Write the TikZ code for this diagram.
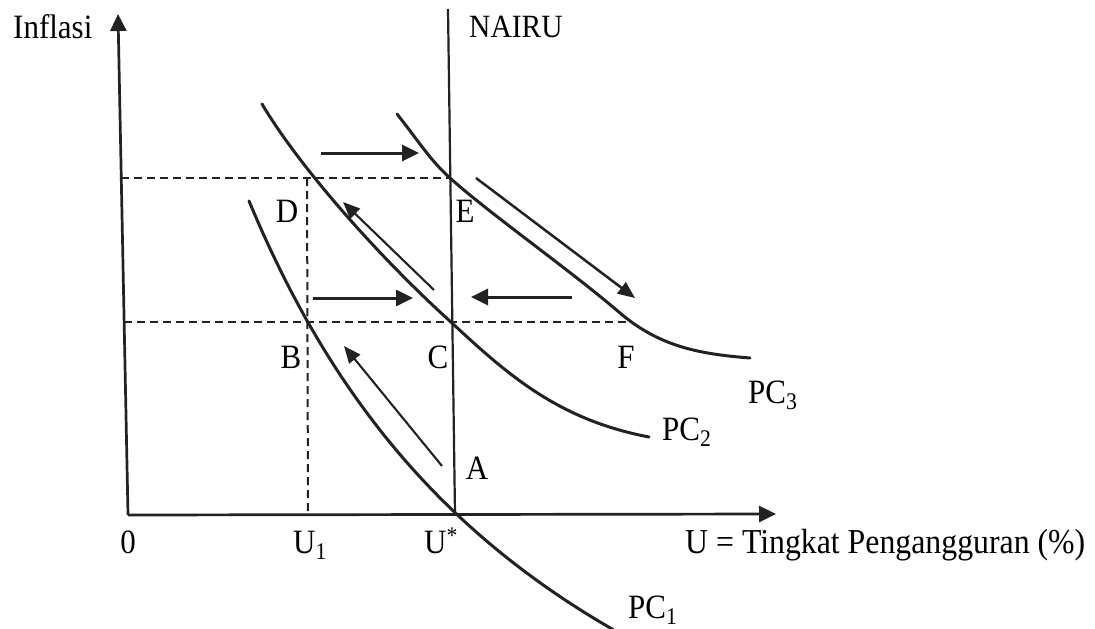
\documentclass[tikz,border=0pt]{standalone}
\usepackage{fontspec}
\setmainfont{Liberation Serif}
\usetikzlibrary{arrows.meta}
\definecolor{ink}{RGB}{34,34,34}
\newcommand{\tallt}[1]{\scalebox{1}[1.1]{#1}}
\begin{document}
\begin{tikzpicture}[x=1pt,y=-1pt,
  lbl/.style={font=\fontsize{31}{36}\selectfont, inner sep=0pt, text=black},
  axisline/.style={draw=ink, line width=2.7pt},
  curve/.style={draw=ink, line width=3pt, line cap=round, line join=round},
  guide/.style={draw=ink, line width=2pt, dash pattern=on 8pt off 5pt},
  movearrow/.style={draw=ink, line width=3pt, -{Triangle[length=17pt,width=16pt]}},
  thinarrow/.style={draw=ink, line width=2.1pt, -{Triangle[length=17pt,width=14pt]}}
]
\useasboundingbox (0,0) rectangle (1095,629);
\fill[white] (0,0) rectangle (1095,629);

% key points
\coordinate (O) at (128,515);
\coordinate (Ytop) at (118,14);
\coordinate (Xend) at (776,514);
\coordinate (Ntop) at (448,9);
\coordinate (Nbot) at (455,514);
\coordinate (Yd) at (121,178);
\coordinate (Yb) at (124,322);
\coordinate (Dp) at (307,178);
\coordinate (Ep) at (450,178);
\coordinate (Bp) at (308,322);
\coordinate (Cp) at (452,323);
\coordinate (Fp) at (628,322);
\coordinate (U1p) at (308,514);

% dashed guides
\draw[guide] (Yd) -- (Ep);
\draw[guide] (Yb) -- (Fp);
\draw[guide] (Dp) -- (U1p);

% axes
\draw[axisline, -{Triangle[length=17pt,width=16pt]}] (O) -- (Ytop);
\draw[axisline, -{Triangle[length=17pt,width=16pt]}] (O) -- (Xend);
\draw[axisline, line width=2.2pt] (Nbot) -- (Ntop);

% Phillips curves
\draw[curve] plot[domain=249:613, samples=80] (\x, {1040.5 - 2930/((\x+100)/100)});
\draw[curve] (262,104) .. controls (300,168) and (380,258) .. (Cp)
                       .. controls (510,377) and (560,420) .. (649,437);
\draw[curve] (397,114) .. controls (420,143) and (430,160) .. (Ep)
                       .. controls (490,214) and (570,270) .. (620,313)
                       .. controls (660,347) and (700,354) .. (750,358);

% movement arrows
\coordinate (a1s) at (321,153); \coordinate (a1e) at (419,153);
\coordinate (a2s) at (313,298); \coordinate (a2e) at (413,298);
\coordinate (a3s) at (572,297); \coordinate (a3e) at (471,297);
\coordinate (a4s) at (434,290); \coordinate (a4e) at (343,202);
\coordinate (a5s) at (442,466); \coordinate (a5e) at (344,346);
\coordinate (a6s) at (476,178); \coordinate (a6e) at (635,298);
\draw[movearrow] (a1s) -- (a1e);
\draw[movearrow] (a2s) -- (a2e);
\draw[movearrow] (a3s) -- (a3e);
\draw[thinarrow] (a4s) -- (a4e);
\draw[thinarrow] (a5s) -- (a5e);
\draw[thinarrow, line width=2.5pt] (a6s) -- (a6e);

% labels
\node[lbl, anchor=base west] (tInf) at (13,38) {\tallt{Inflasi}};
\node[lbl, anchor=base west, font=\fontsize{29.5}{34}\selectfont] (tNairu) at (469,37) {\tallt{NAIRU}};
\node[lbl, anchor=base] (t0) at (128,553) {\tallt{0}};
\node[lbl, anchor=base west] (tU1) at (293,553) {\tallt{U\textsubscript{1}}};
\node[lbl, anchor=base west] (tUs) at (424,553) {\tallt{U\textsuperscript{*}}};
\node[lbl, anchor=base west, font=\fontsize{31.8}{36}\selectfont] (tX) at (685,553) {\tallt{U = Tingkat Pengangguran (\%)}};
\node[lbl, anchor=base] (tD) at (287,222) {\tallt{D}};
\node[lbl, anchor=base] (tE) at (465,222) {\tallt{E}};
\node[lbl, anchor=base] (tB) at (291,368) {\tallt{B}};
\node[lbl, anchor=base] (tC) at (438,368) {\tallt{C}};
\node[lbl, anchor=base] (tF) at (626,368) {\tallt{F}};
\node[lbl, anchor=base] (tA) at (477,479) {\tallt{A}};
\node[lbl, anchor=base west] (tPC3) at (748,403) {\tallt{PC\textsubscript{3}}};
\node[lbl, anchor=base west] (tPC2) at (662,440) {\tallt{PC\textsubscript{2}}};
\node[lbl, anchor=base west] (tPC1) at (628,618) {\tallt{PC\textsubscript{1}}};
\end{tikzpicture}
\end{document}
